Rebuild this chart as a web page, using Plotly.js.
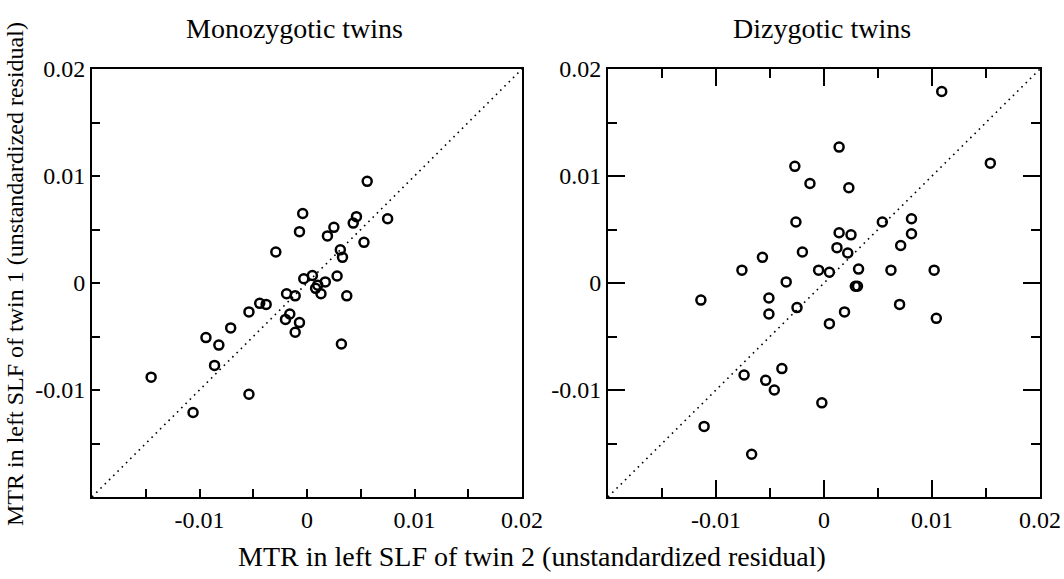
<!DOCTYPE html>
<html>
<head>
<meta charset="utf-8">
<script src="https://cdn.plot.ly/plotly-3.0.1.min.js"></script>
<style>html,body{margin:0;padding:0;background:#fff;}#chart{width:1064px;height:579px;}</style>
</head>
<body>
<div id="chart"></div>
<script>
// Monozygotic twins: x = twin 2 residual, y = twin 1 residual
var mzTwin2 = [0.0056, -0.0004, -0.0007, 0.0046, 0.0043, 0.0025, 0.0019, 0.0075, 0.0053, 0.0031,
  0.0033, 0.0005, -0.0003, 0.0028, 0.0017, 0.0010, 0.0008, 0.0013, -0.0019, -0.0011,
  0.0037, -0.0016, -0.0020, -0.0007, -0.0011, 0.0032, -0.0029, -0.0044, -0.0038, -0.0054,
  -0.0071, -0.0094, -0.0082, -0.0086, -0.0145, -0.0054, -0.0106];
var mzTwin1 = [0.0095, 0.0065, 0.0048, 0.0062, 0.0056, 0.0052, 0.0044, 0.0060, 0.0038, 0.0031,
  0.0024, 0.0007, 0.0004, 0.00065, 0.0001, -0.0002, -0.0005, -0.0010, -0.0010, -0.0012,
  -0.0012, -0.0029, -0.0034, -0.0037, -0.0046, -0.0057, 0.0029, -0.0019, -0.0020, -0.0027,
  -0.0042, -0.0051, -0.0058, -0.0077, -0.0088, -0.0104, -0.0121];

// Dizygotic twins
var dzTwin2 = [-0.0027, -0.0013, -0.0026, -0.0020, -0.0057, -0.0076, -0.0035, -0.0005, 0.0005, -0.0114,
  -0.0051, 0.0109, 0.0014, 0.0154, 0.0023, 0.0054, 0.0081, 0.0081, 0.0014, 0.0025,
  0.0071, 0.0012, 0.0022, 0.0032, 0.0062, 0.0102, 0.0029, 0.0031, -0.0051, -0.0025,
  -0.0039, -0.0074, -0.0054, -0.0046, -0.0111, -0.0067, -0.0002, 0.0070, 0.0019, 0.0005, 0.0104];
var dzTwin1 = [0.0109, 0.0093, 0.0057, 0.0029, 0.0024, 0.0012, 0.0001, 0.0012, 0.0010, -0.0016,
  -0.0014, 0.0179, 0.0127, 0.0112, 0.0089, 0.0057, 0.0060, 0.0046, 0.0047, 0.0045,
  0.0035, 0.0033, 0.0028, 0.0013, 0.0012, 0.0012, -0.0003, -0.0003, -0.0029, -0.0023,
  -0.0080, -0.0086, -0.0091, -0.0100, -0.0134, -0.0160, -0.0112, -0.0020, -0.0027, -0.0038, -0.0033];

var axisRange = [-0.02, 0.02];
var allTickVals = [-0.015, -0.01, -0.005, 0, 0.005, 0.01, 0.015, 0.02];
var allTickText = ['', '-0.01', '', '0', '', '0.01', '', '0.02'];
var majorTickVals = [-0.01, 0, 0.01, 0.02];
var majorTickText = ['-0.01', '0', '0.01', '0.02'];
var minorTickVals = [-0.015, -0.005, 0.005, 0.015];

var panelTitles = ['Monozygotic twins', 'Dizygotic twins'];
var xTitle = 'MTR in left SLF of twin 2 (unstandardized residual)';
var yTitle = 'MTR in left SLF of twin 1 (unstandardized residual)';

var serif = 'Liberation Serif, Times New Roman, serif';
var markerStyle = {symbol: 'circle-open', size: 9, color: '#000', line: {width: 2.5, color: '#000'}};
var diagStyle = {color: '#000', width: 1.6, dash: '1.6px,4.4px'};

var traces = [
  {x: axisRange, y: axisRange, xaxis: 'x', yaxis: 'y', mode: 'lines', line: diagStyle, hoverinfo: 'skip'},
  {x: mzTwin2, y: mzTwin1, xaxis: 'x', yaxis: 'y', mode: 'markers', marker: markerStyle},
  {x: axisRange, y: axisRange, xaxis: 'x2', yaxis: 'y2', mode: 'lines', line: diagStyle, hoverinfo: 'skip'},
  {x: dzTwin2, y: dzTwin1, xaxis: 'x2', yaxis: 'y2', mode: 'markers', marker: markerStyle}
];

var W = 1064, H = 579;
function px(v) { return v / W; }
function py(v) { return 1 - v / H; }
var yDom = [py(497), py(69)];
var tickFont = {family: serif, size: 24, color: '#000'};

function leftAxis(dom, anchor) {
  return {
    domain: dom, anchor: anchor, range: axisRange, showgrid: false, zeroline: false,
    showline: true, linewidth: 2, linecolor: '#000', mirror: true,
    ticks: 'inside', ticklen: 8, tickwidth: 2, tickcolor: '#000',
    tickmode: 'array', tickvals: allTickVals, ticktext: allTickText,
    tickfont: tickFont, fixedrange: true
  };
}
function rightAxis(dom, anchor) {
  return {
    domain: dom, anchor: anchor, range: axisRange, showgrid: false, zeroline: false,
    showline: true, linewidth: 2, linecolor: '#000', mirror: 'ticks',
    ticks: 'inside', ticklen: 17, tickwidth: 2, tickcolor: '#000',
    tickmode: 'array', tickvals: majorTickVals, ticktext: majorTickText,
    minor: {tickmode: 'array', tickvals: minorTickVals, ticks: 'inside', ticklen: 9, tickwidth: 2, tickcolor: '#000'},
    tickfont: tickFont, fixedrange: true
  };
}

var layout = {
  width: W, height: H,
  margin: {l: 0, r: 0, t: 0, b: 0},
  paper_bgcolor: '#fff', plot_bgcolor: '#fff',
  showlegend: false,
  xaxis: leftAxis([px(92), px(522)], 'y'),
  yaxis: leftAxis(yDom, 'x'),
  xaxis2: rightAxis([px(608), px(1040)], 'y2'),
  yaxis2: rightAxis(yDom, 'x2'),
  annotations: [
    {text: panelTitles[0], xref: 'paper', yref: 'paper', x: px(294), y: py(28), showarrow: false,
     xanchor: 'center', yanchor: 'middle', font: {family: serif, size: 28, color: '#000'}},
    {text: panelTitles[1], xref: 'paper', yref: 'paper', x: px(822), y: py(28), showarrow: false,
     xanchor: 'center', yanchor: 'middle', font: {family: serif, size: 28, color: '#000'}},
    {text: xTitle, xref: 'paper', yref: 'paper', x: px(532), y: py(556), showarrow: false,
     xanchor: 'center', yanchor: 'middle', font: {family: serif, size: 28, color: '#000'}},
    {text: yTitle, xref: 'paper', yref: 'paper', x: px(15), y: py(274), showarrow: false, textangle: -90,
     xanchor: 'center', yanchor: 'middle', font: {family: serif, size: 24, color: '#000'}}
  ]
};

Plotly.newPlot('chart', traces, layout, {displayModeBar: false, staticPlot: true});
</script>
</body>
</html>
